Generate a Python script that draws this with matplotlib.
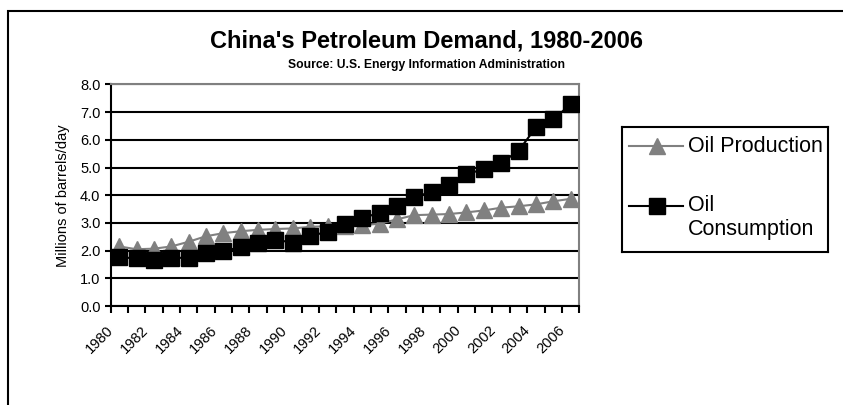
"""
China petroleum production vs consumption, 1980-2006
"""

import numpy as np
import matplotlib
matplotlib.use('Agg')
import matplotlib.pyplot as plt
from matplotlib.patches import Rectangle
from matplotlib.transforms import ScaledTranslation

# Millions of barrels per day
years = list(range(1980, 2007))
production = [2.15, 2.05, 2.07, 2.15, 2.32, 2.52, 2.63, 2.70, 2.75, 2.78,
              2.80, 2.86, 2.88, 2.90, 2.92, 2.97, 3.13, 3.28, 3.30, 3.32,
              3.38, 3.45, 3.55, 3.60, 3.67, 3.78, 3.87]
consumption = [1.76, 1.72, 1.66, 1.74, 1.74, 1.90, 1.99, 2.12, 2.29, 2.39,
               2.29, 2.53, 2.68, 2.96, 3.17, 3.37, 3.61, 3.92, 4.13, 4.37,
               4.77, 4.93, 5.17, 5.60, 6.45, 6.74, 7.28]
y_ticks = [0.0, 1.0, 2.0, 3.0, 4.0, 5.0, 6.0, 7.0, 8.0]
label_years = years[::2]

title = "China's Petroleum Demand, 1980-2006"
subtitle = "Source: U.S. Energy Information Administration"

GRAY = '#808080'

plt.rcParams['font.family'] = ['Liberation Sans', 'DejaVu Sans']

fig = plt.figure(figsize=(8.43, 4.05), dpi=100)
ax = fig.add_axes([0.1311, 0.2444, 0.5561, 0.5472])

x = np.arange(len(years))
ax.plot(x, production, color=GRAY, lw=1.5, marker='^', ms=11.5,
        mfc=GRAY, mec=GRAY, zorder=3)
ax.plot(x, consumption, color='black', lw=1.5, marker='s', ms=11,
        mfc='black', mec='black', zorder=4)

ax.set_xlim(-0.5, len(years) - 0.5)
ax.set_ylim(y_ticks[0], y_ticks[-1])

# Horizontal gridlines
ax.set_yticks(y_ticks)
ax.set_yticklabels([f'{v:.1f}' for v in y_ticks])
ax.yaxis.grid(True, color='black', lw=1.5)
ax.set_axisbelow(True)
ax.tick_params(axis='y', length=4.3, width=1.5, pad=3, labelsize=10.5)

# Year labels every other category, tick marks on category boundaries
ax.set_xticks(x[::2])
ax.set_xticklabels([str(y) for y in label_years])
ax.set_xticks(np.arange(len(years) + 1) - 0.5, minor=True)
ax.tick_params(axis='x', which='major', length=0, pad=12.5, labelsize=10.5,
               labelrotation=45)
ax.tick_params(axis='x', which='minor', length=5, width=1.5)
shift = ScaledTranslation(-0.13, 0, fig.dpi_scale_trans)
for lbl in ax.get_xticklabels():
    lbl.set_ha('right')
    lbl.set_va('top')
    lbl.set_rotation_mode('anchor')
    lbl.set_transform(lbl.get_transform() + shift)

for side in ['left', 'bottom']:
    ax.spines[side].set_color('black')
    ax.spines[side].set_linewidth(1.5)
for side in ['top', 'right']:
    ax.spines[side].set_color(GRAY)
    ax.spines[side].set_linewidth(1.5)

ax.set_ylabel('Millions of barrels/day', fontsize=10.5)
ax.yaxis.set_label_coords(-0.087, 0.5)

fig.text(0.5065, 0.8815, title, ha='center', va='baseline',
         fontsize=17, fontweight='bold')
fig.text(0.5065, 0.8309, subtitle, ha='center', va='baseline',
         fontsize=8.7, fontweight='bold')

# Legend box
lax = fig.add_axes([0.7378, 0.3778, 0.2444, 0.3086])
lax.set_xlim(0, 1)
lax.set_ylim(0, 1)
lax.set_xticks([])
lax.set_yticks([])
for sp in lax.spines.values():
    sp.set_color('black')
    sp.set_linewidth(1.5)
lax.plot([0.034, 0.17, 0.296], [0.848] * 3, color=GRAY, lw=1.5,
         marker='^', ms=11.5, mfc=GRAY, mec=GRAY, markevery=[1])
lax.plot([0.034, 0.17, 0.296], [0.368] * 3, color='black', lw=1.5,
         marker='s', ms=11, mfc='black', mec='black', markevery=[1])
lax.text(0.32, 0.848, 'Oil Production', va='center', fontsize=15.5)
lax.text(0.32, 0.368, 'Oil', va='center', fontsize=15.5)
lax.text(0.32, 0.176, 'Consumption', va='center', fontsize=15.5)

# Chart frame
fig.patches.append(Rectangle((8 / 843, -0.1), 1.2, 1.1 - 11 / 405,
                             transform=fig.transFigure, fill=False,
                             ec='black', lw=1.5))

fig.savefig('out.png', dpi=100)
plt.close(fig)
